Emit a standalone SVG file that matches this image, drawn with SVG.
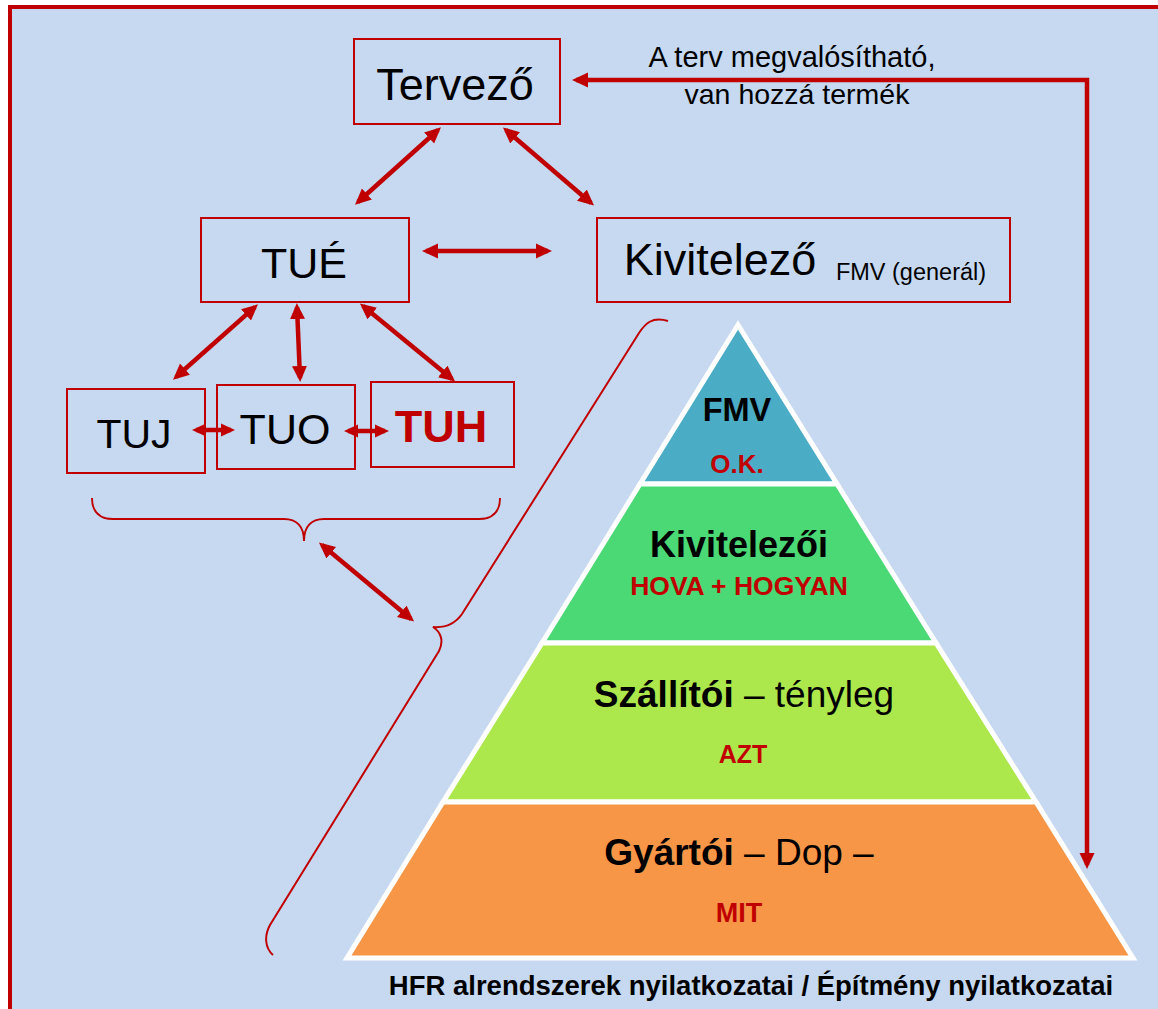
<svg xmlns="http://www.w3.org/2000/svg" width="1158" height="1009" viewBox="0 0 1158 1009">
<defs>
<style>
.box{fill:none;stroke:#C00000;stroke-width:2}
.lbl{font-family:"Liberation Sans",Arial,sans-serif;fill:#000;text-anchor:middle}
.b{font-weight:bold}
.red{fill:#C00000}
.con{fill:none;stroke:#C00000;stroke-width:4.5}
.brace{fill:none;stroke:#C00000;stroke-width:2}
.layer{stroke:#FFFFFF;stroke-width:5;stroke-linejoin:miter}
</style>
<marker id="ah" viewBox="0 0 16 16" markerWidth="16" markerHeight="16" refX="12" refY="8" orient="auto-start-reverse" markerUnits="userSpaceOnUse"><path d="M0,0.5 L16,8 L0,15.5 z" fill="#C00000"/></marker>
<marker id="ahs" viewBox="0 0 14 14" markerWidth="14" markerHeight="14" refX="10" refY="7" orient="auto-start-reverse" markerUnits="userSpaceOnUse"><path d="M0,0.5 L14,7 L0,13.5 z" fill="#C00000"/></marker>
</defs>
<rect x="0" y="0" width="1158" height="1009" fill="#FFFFFF"/>
<rect x="10" y="7" width="1160" height="1010" fill="#C6D9F1" stroke="#C00000" stroke-width="4"/>

<g id="pyramid">
<g id="layer-fmv"><polygon class="layer" fill="#4BACC6" points="738,325 837,484 640,484"/>
<text class="lbl b" x="737" y="421" font-size="32.5">FMV</text>
<text class="lbl b red" x="737" y="473" font-size="26">O.K.</text></g>
<g id="layer-kivitelezoi"><polygon class="layer" fill="#4AD974" points="640,484 837,484 936,643 542,643"/>
<text class="lbl b" x="739" y="557" font-size="36">Kivitelezői</text>
<text class="lbl b red" x="739" y="595" font-size="26.5">HOVA + HOGYAN</text></g>
<g id="layer-szallitoi"><polygon class="layer" fill="#ACE84B" points="542,643 936,643 1036,802 443,802"/>
<text class="lbl" x="744" y="707" font-size="37"><tspan class="b">Szállítói</tspan> – tényleg</text>
<text class="lbl b red" x="743" y="763" font-size="25">AZT</text></g>
<g id="layer-gyartoi"><polygon class="layer" fill="#F79646" points="443,802 1036,802 1133,958 347,958"/>
<text class="lbl" x="739" y="865" font-size="37"><tspan class="b">Gyártói</tspan> – Dop –</text>
<text class="lbl b red" x="739" y="922" font-size="27">MIT</text></g>
</g>

<g id="tervezo"><rect class="box" x="354" y="39" width="206" height="85"/>
<text class="lbl" x="455" y="100" font-size="45">Tervező</text></g>
<g id="tue"><rect class="box" x="201" y="218" width="208" height="84"/>
<text class="lbl" x="304" y="278" font-size="43">TUÉ</text></g>
<g id="kivitelezo"><rect class="box" x="597" y="218" width="413" height="84"/>
<text class="lbl" x="720" y="275" font-size="45">Kivitelező</text>
<text class="lbl" x="911" y="280" font-size="23.5">FMV (generál)</text></g>
<g id="tuj"><rect class="box" x="67" y="389" width="138" height="84"/>
<text class="lbl" x="134" y="448" font-size="41">TUJ</text></g>
<g id="tuo"><rect class="box" x="217" y="385" width="138" height="84"/>
<text class="lbl" x="285" y="444" font-size="43">TUO</text></g>
<g id="tuh"><rect class="box" x="371" y="382" width="143" height="85"/>
<text class="lbl b red" x="441" y="442" font-size="45">TUH</text></g>

<g id="feedback-label">
<text class="lbl" x="792" y="67" font-size="29">A terv megvalósítható,</text>
<text class="lbl" x="797" y="104" font-size="28.5">van hozzá termék</text>
</g>

<g id="braces">
<path class="brace" d="M92,498 C92,512 100,519 113,519 L284,519 C297,519 304,527 304,541 C304,527 311,519 324,519 L479,519 C492,519 500,512 500,498"/>
<path class="brace" d="M668,321 C652,316 645,324 639,333 L462,614 C455,624 446,628 433,627 C441,632 444,641 439,651 L270,925 C264,936 265,948 273,955"/>
</g>

<g id="connectors">
<line class="con" x1="438" y1="130" x2="358" y2="202" marker-start="url(#ah)" marker-end="url(#ah)"/>
<line class="con" x1="506" y1="130" x2="591" y2="203" marker-start="url(#ah)" marker-end="url(#ah)"/>
<line class="con" x1="426" y1="251" x2="548" y2="251" marker-start="url(#ah)" marker-end="url(#ah)"/>
<line class="con" x1="255" y1="307" x2="176" y2="377" marker-start="url(#ah)" marker-end="url(#ah)"/>
<line class="con" x1="297" y1="307" x2="300" y2="378" marker-start="url(#ah)" marker-end="url(#ah)"/>
<line class="con" x1="363" y1="306" x2="452" y2="379" marker-start="url(#ah)" marker-end="url(#ah)"/>
<line class="con" x1="196" y1="430" x2="231" y2="430" stroke-width="4" marker-start="url(#ahs)" marker-end="url(#ahs)"/>
<line class="con" x1="348" y1="431" x2="385" y2="431" stroke-width="4" marker-start="url(#ahs)" marker-end="url(#ahs)"/>
<line class="con" x1="322" y1="545" x2="411" y2="619" marker-start="url(#ah)" marker-end="url(#ah)"/>
<polyline class="con" stroke-width="3.5" points="576,80 1087,80 1087,865" marker-start="url(#ah)" marker-end="url(#ah)"/>
</g>

<g id="caption">
<text class="lbl b" x="751" y="995" font-size="27.5">HFR alrendszerek nyilatkozatai / Építmény nyilatkozatai</text>
</g>
</svg>
